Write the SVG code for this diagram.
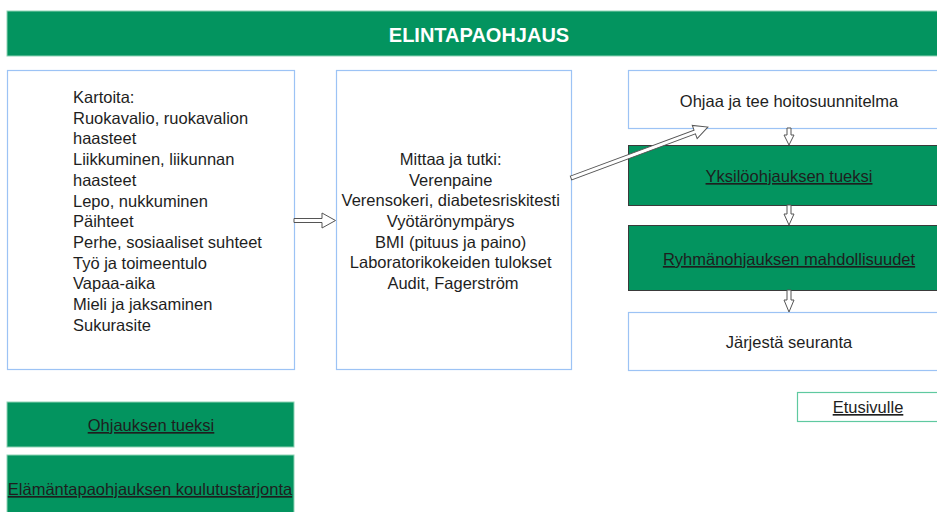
<svg xmlns="http://www.w3.org/2000/svg" width="937" height="512" viewBox="0 0 937 512">
  <style>
    .txt { font-family: "Liberation Sans", Arial, sans-serif; font-size: 16.5px; fill: #1e1e1e; }
    .mid { text-anchor: middle; }
    .link { text-decoration: underline; }
    .plain { fill: #ffffff; stroke: #9cc3f5; stroke-width: 1.2; }
    .greenDark { fill: #03945f; stroke: #3a3a3a; stroke-width: 1; }
    .greenSoft { fill: #03945f; stroke: #8fd3b6; stroke-width: 1; }
    .hollow { fill: #ffffff; stroke: #555; stroke-width: 1; stroke-linejoin: miter; }
  </style>

  <!-- title bar -->
  <g id="title">
    <rect class="greenSoft" x="7" y="11" width="935" height="45"/>
    <text x="479" y="42" text-anchor="middle" font-family="Liberation Sans, Arial, sans-serif" font-size="20" font-weight="bold" fill="#ffffff">ELINTAPAOHJAUS</text>
  </g>

  <!-- survey list -->
  <g id="kartoita">
    <rect class="plain" x="7.5" y="70.5" width="287" height="299"/>
    <text class="txt" x="73">
      <tspan x="73" y="103">Kartoita:</tspan>
      <tspan x="73" y="124">Ruokavalio, ruokavalion</tspan>
      <tspan x="73" y="144">haasteet</tspan>
      <tspan x="73" y="165">Liikkuminen, liikunnan</tspan>
      <tspan x="73" y="186">haasteet</tspan>
      <tspan x="73" y="207">Lepo, nukkuminen</tspan>
      <tspan x="73" y="227">Päihteet</tspan>
      <tspan x="73" y="248">Perhe, sosiaaliset suhteet</tspan>
      <tspan x="73" y="269">Työ ja toimeentulo</tspan>
      <tspan x="73" y="289">Vapaa-aika</tspan>
      <tspan x="73" y="310">Mieli ja jaksaminen</tspan>
      <tspan x="73" y="331">Sukurasite</tspan>
    </text>
  </g>

  <!-- measurements -->
  <g id="mittaa">
    <rect class="plain" x="336.5" y="70.5" width="235" height="299"/>
    <text class="txt mid">
      <tspan x="453" y="165">Mittaa ja tutki:</tspan>
      <tspan x="453" y="186">Verenpaine</tspan>
      <tspan x="453" y="206">Verensokeri, diabetesriskitesti</tspan>
      <tspan x="453" y="227">Vyötärönympärys</tspan>
      <tspan x="453" y="248">BMI (pituus ja paino)</tspan>
      <tspan x="453" y="268">Laboratorikokeiden tulokset</tspan>
      <tspan x="453" y="289">Audit, Fagerström</tspan>
    </text>
  </g>

  <!-- right column -->
  <g id="ohjaa">
    <rect class="plain" x="628.5" y="70.5" width="312" height="58"/>
    <text class="txt mid" x="789" y="107">Ohjaa ja tee hoitosuunnitelma</text>
  </g>
  <g id="yksilo">
    <rect class="greenDark" x="628.5" y="145.5" width="312" height="60"/>
    <text class="txt mid link" x="789" y="182">Yksilöohjauksen tueksi</text>
  </g>
  <g id="ryhma">
    <rect class="greenDark" x="628.5" y="225.5" width="312" height="65"/>
    <text class="txt mid link" x="789" y="265">Ryhmänohjauksen mahdollisuudet</text>
  </g>
  <g id="seuranta">
    <rect class="plain" x="628.5" y="312.5" width="312" height="58"/>
    <text class="txt mid" x="789" y="348">Järjestä seuranta</text>
  </g>

  <!-- front page link -->
  <g id="etusivulle">
    <rect x="797.5" y="392.5" width="142" height="29" fill="#ffffff" stroke="#5fc9a0" stroke-width="1.2"/>
    <text class="txt mid link" x="868" y="413">Etusivulle</text>
  </g>

  <!-- bottom-left links -->
  <g id="ohjauksen-tueksi">
    <rect class="greenSoft" x="7" y="402" width="287" height="45"/>
    <text class="txt mid link" x="151" y="431">Ohjauksen tueksi</text>
  </g>
  <g id="koulutustarjonta">
    <rect class="greenSoft" x="7" y="455" width="287" height="62"/>
    <text class="txt mid link" x="150" y="495">Elämäntapaohjauksen koulutustarjonta</text>
  </g>

  <!-- connectors: hollow block arrows -->
  <g id="connectors">
    <polygon class="hollow" points="294,218.5 322,218.5 322,213 335.5,220.5 322,228 322,222.5 294,222.5"/>
    <polygon class="hollow" transform="translate(571,178) rotate(-20.4)" points="0,-2 132,-2 132,-7 146,0 132,7 132,2 0,2"/>
    <polygon class="hollow" points="787,128 791,128 791,135 794,135 789,145 784,135 787,135"/>
    <polygon class="hollow" points="787,205 791,205 791,214 794,214 789,225 784,214 787,214"/>
    <polygon class="hollow" points="787,290 791,290 791,300 794,300 789,312 784,300 787,300"/>
  </g>
</svg>
